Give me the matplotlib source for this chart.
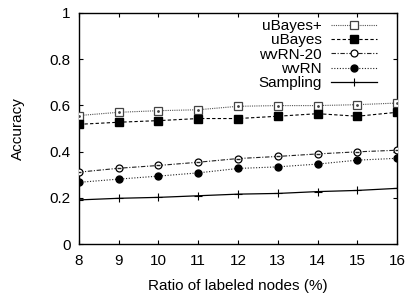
import matplotlib
matplotlib.use("Agg")
import matplotlib.pyplot as plt

x = [8, 9, 10, 11, 12, 13, 14, 15, 16]
ubayes_plus = [0.556, 0.570, 0.577, 0.581, 0.596, 0.599, 0.599, 0.603, 0.610]
ubayes = [0.518, 0.527, 0.534, 0.543, 0.543, 0.553, 0.564, 0.553, 0.570]
wvrn20 = [0.311, 0.328, 0.340, 0.354, 0.370, 0.379, 0.390, 0.399, 0.406]
wvrn = [0.267, 0.281, 0.294, 0.308, 0.327, 0.334, 0.346, 0.363, 0.371]
sampling = [0.191, 0.198, 0.202, 0.209, 0.216, 0.219, 0.227, 0.232, 0.241]
yticks = [0, 0.2, 0.4, 0.6, 0.8, 1]
ytick_labels = ["0", "0.2", "0.4", "0.6", "0.8", "1"]

plt.rcParams['font.family'] = ['Liberation Sans', 'DejaVu Sans']
plt.rcParams['font.size'] = 11

fig = plt.figure(figsize=(4.09, 2.93), dpi=100)
ax = fig.add_axes([0.193, 0.167, 0.778, 0.789])

ms_sq = 5.5
ms_c = 5.0
ax.plot(x, ubayes_plus, color='#555555', linestyle=(0, (1, 1)), linewidth=0.8,
        marker='s', markersize=ms_sq, markerfacecolor='white', markeredgecolor='#444444',
        markeredgewidth=0.9, label='uBayes+', zorder=3)
ax.plot(x, ubayes_plus, linestyle='none', marker='.', markersize=2,
        color='#444444', zorder=4)
ax.plot(x, ubayes, color='black', linestyle=(0, (3, 2)), linewidth=0.8,
        marker='s', markersize=ms_sq, markerfacecolor='black', markeredgecolor='black',
        label='uBayes', zorder=3)
ax.plot(x, wvrn20, color='#222222', linestyle=(0, (4, 1.5, 1, 1.5)), linewidth=0.8,
        marker='o', markersize=ms_c, markerfacecolor='white', markeredgecolor='black',
        markeredgewidth=0.9, label='wvRN-20', zorder=3)
ax.plot(x, wvrn20, linestyle='none', marker='_', markersize=3,
        color='#222222', zorder=4)
ax.plot(x, wvrn, color='#222222', linestyle=(0, (1, 1.5)), linewidth=0.8,
        marker='o', markersize=ms_c, markerfacecolor='black', markeredgecolor='black',
        label='wvRN', zorder=3)
ax.plot(x, sampling, color='black', linestyle='-', linewidth=0.9,
        marker='+', markersize=6, markeredgewidth=0.8, label='Sampling', zorder=3)

ax.set_xlim(8, 16)
ax.set_ylim(0, 1)
ax.set_xticks(x)
ax.set_yticks(yticks)
ax.set_yticklabels(ytick_labels)
ax.tick_params(direction='in', top=True, right=True, length=3, width=0.8)
ax.tick_params(axis='x', pad=7)
ax.tick_params(axis='y', pad=6)
for s in ax.spines.values():
    s.set_linewidth(1.0)
ax.set_xlabel('Ratio of labeled nodes (%)', labelpad=8)
ax.set_ylabel('Accuracy', labelpad=18)

handles, labels = ax.get_legend_handles_labels()
ax.legend(handles, labels, loc='upper right', frameon=False, markerfirst=False,
          handlelength=3.0, labelspacing=0.02, handletextpad=0.6, borderaxespad=0.0,
          bbox_to_anchor=(0.955, 1.0))

fig.savefig('out.png', dpi=100)
